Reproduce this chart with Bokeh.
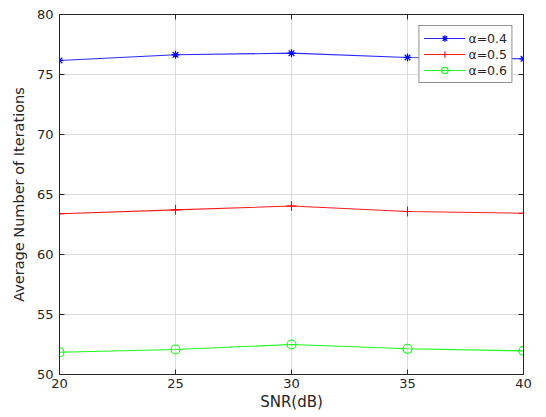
from bokeh.plotting import figure
from bokeh.models import LinearAxis, Range1d, FixedTicker, Legend, LegendItem
from bokeh.embed import file_html
from bokeh.resources import INLINE

snr = [20, 25, 30, 35, 40]
a04 = [76.17, 76.64, 76.78, 76.42, 76.31]
a05 = [63.39, 63.72, 64.04, 63.58, 63.44]
a06 = [51.86, 52.08, 52.50, 52.14, 51.97]
labels = ["α=0.4", "α=0.5", "α=0.6"]
x_ticks = [20, 25, 30, 35, 40]
y_ticks = [50, 55, 60, 65, 70, 75, 80]

FONT = "DejaVu Sans"
TXT = "#262626"
AX = "#262626"

p = figure(width=538, height=413, output_backend="svg", toolbar_location=None,
           x_range=Range1d(20, 40), y_range=Range1d(50, 80),
           min_border_left=59, min_border_right=15, min_border_top=14, min_border_bottom=39)
p.outline_line_color = AX
p.outline_line_width = 1
p.background_fill_color = "white"

for ax in [p.xaxis[0], p.yaxis[0]]:
    ax.axis_line_color = AX
    ax.major_tick_line_color = AX
    ax.major_tick_in = 5
    ax.major_tick_out = 0
    ax.minor_tick_line_color = None
    ax.major_label_text_font = FONT
    ax.major_label_text_font_size = "13px"
    ax.major_label_text_color = TXT
    ax.axis_label_text_font = FONT
    ax.axis_label_text_font_size = "15px"
    ax.axis_label_text_font_style = "normal"
    ax.axis_label_text_color = TXT

p.yaxis.axis_label_text_font_size = "14.5px"
p.xaxis.ticker = FixedTicker(ticks=x_ticks)
p.yaxis.ticker = FixedTicker(ticks=y_ticks)
p.xaxis.axis_label = "SNR(dB)"
p.yaxis.axis_label = "Average Number of Iterations"
p.xaxis.major_label_standoff = 4
p.yaxis.major_label_standoff = 6
p.xaxis.axis_label_standoff = 2
p.yaxis.axis_label_standoff = 7

for loc, tk in [("above", x_ticks), ("right", y_ticks)]:
    ax = LinearAxis(ticker=FixedTicker(ticks=tk))
    ax.axis_line_color = AX
    ax.major_tick_line_color = AX
    ax.major_tick_in = 5
    ax.major_tick_out = 0
    ax.minor_tick_line_color = None
    ax.major_label_overrides = {t: "" for t in tk}
    ax.major_label_standoff = 0
    p.add_layout(ax, loc)

p.xgrid.grid_line_color = "#dcdcdc"
p.ygrid.grid_line_color = "#dcdcdc"
p.xgrid.ticker = FixedTicker(ticks=x_ticks)
p.ygrid.ticker = FixedTicker(ticks=y_ticks)

l1 = p.line(snr, a04, line_color="#2a2aff", line_width=1.1)
m1 = p.scatter(snr, a04, marker="asterisk", size=8, line_color="#0000ff", line_width=1.2)
l2 = p.line(snr, a05, line_color="#ff1a1a", line_width=1.1)
m2 = p.scatter(snr, a05, marker="cross", size=10, line_color="#ff0000", line_width=1.1)
l3 = p.line(snr, a06, line_color="#1aff1a", line_width=1.1)
m3 = p.scatter(snr, a06, marker="circle", size=9, line_color="#00ff00", fill_color=None, line_width=1.1)

legend = Legend(items=[LegendItem(label=labels[0], renderers=[l1, m1]),
                       LegendItem(label=labels[1], renderers=[l2, m2]),
                       LegendItem(label=labels[2], renderers=[l3, m3])],
                location="top_right")
legend.border_line_color = AX
legend.border_line_width = 1
legend.background_fill_color = "white"
legend.background_fill_alpha = 1
legend.label_text_font = FONT
legend.label_text_font_size = "12.5px"
legend.label_text_color = TXT
legend.glyph_width = 42
legend.glyph_height = 16
legend.label_height = 16
legend.spacing = 0
legend.label_standoff = 3
legend.padding = 4
legend.margin = 11
p.add_layout(legend, "center")

open("out.html", "w").write(file_html(p, INLINE))
